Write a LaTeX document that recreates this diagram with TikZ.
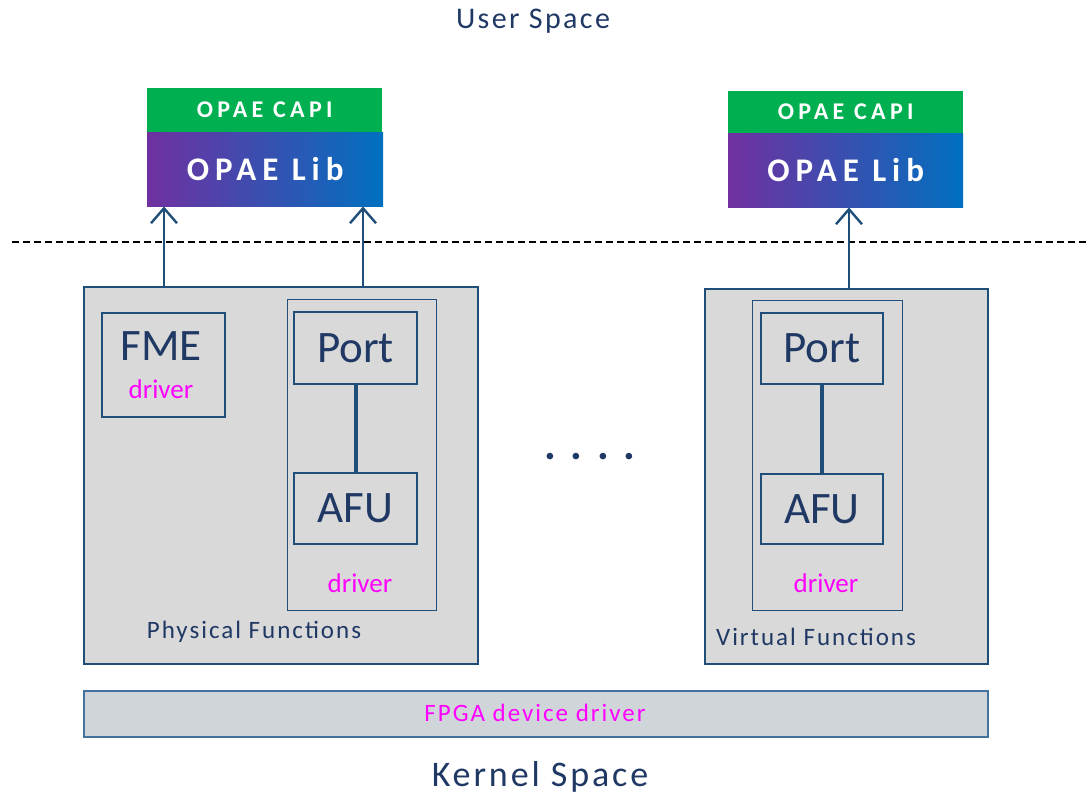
\documentclass[tikz,border=0pt]{standalone}
\usepackage{fontspec}
\setmainfont{Carlito}
\newfontfamily\spaced[LetterSpace=8]{Carlito}
\newfontfamily\widespaced[LetterSpace=18]{Carlito}
\usetikzlibrary{positioning, arrows.meta}
\definecolor{navy}{HTML}{1F3864}
\definecolor{boxline}{HTML}{1F4E79}
\definecolor{boxgray}{HTML}{D9D9D9}
\definecolor{bargray}{HTML}{D0D5DA}
\definecolor{barline}{HTML}{41719C}
\definecolor{capigreen}{HTML}{00B050}
\definecolor{libpurple}{HTML}{7030A0}
\definecolor{libblue}{HTML}{0070C0}
\definecolor{drvpink}{HTML}{FF00FF}
\tikzset{%
  every func/.style={
    draw=boxline,
    fill=boxgray,
    line width=2pt,
    anchor=north west,
    inner sep=0pt
  },
  every part/.style={
    draw=boxline,
    line width=2pt,
    anchor=north west,
    inner sep=0pt,
    text=navy,
    font=\fontsize{45}{45}\selectfont
  },
  every capi/.style={
    fill=capigreen,
    anchor=north west,
    inner sep=0pt,
    text=white,
    font=\widespaced\fontsize{24}{24}\bfseries\selectfont
  },
  every lib/.style={
    left color=libpurple,
    right color=libblue,
    anchor=north west,
    inner sep=0pt,
    text=white,
    font=\widespaced\fontsize{33}{33}\bfseries\selectfont
  },
  drv/.style={text=drvpink, font=\fontsize{27}{27}\selectfont},
  caption/.style={text=navy, font=\spaced\fontsize{25}{25}\selectfont}
}

\begin{document}
\begin{tikzpicture}[x=1pt, y=-1pt, >={Straight Barb[length=15pt, width=26pt, line width=2.4pt]}]
		\useasboundingbox (0,0) rectangle (1089,796);
		%% user space
		\node[caption, font=\spaced\fontsize{30}{30}\selectfont] (us) at (533,21) {User Space};
		\node[every capi, minimum width=235pt, minimum height=44pt] (capi1) at (147,88) {OPAE CAPI};
		\node[every lib, minimum width=236pt, minimum height=74pt] (lib1) at (147,132) {OPAE Lib};
		\node[every capi, minimum width=235pt, minimum height=42pt] (capi2) at (728,91) {OPAE CAPI};
		\node[every lib, minimum width=235pt, minimum height=74pt] (lib2) at (728,133) {OPAE Lib};
		%% boundary
		\coordinate (bl) at (12,242);
		\coordinate (br) at (1089,242);
		\draw[line width=1.8pt, dash pattern=on 7pt off 4pt] (bl) -- (br);
		%% physical functions
		\node[every func, minimum width=394pt, minimum height=377pt] (pf) at (83,286) {};
		\node[every part, fill=boxgray, minimum width=123pt, minimum height=104pt] (fme) at (101,312) {};
		\node[text=navy, font=\fontsize{45}{45}\selectfont] (fmet) at (161,346) {FME};
		\node[drv] (fmed) at (161,389) {driver};
		\node[draw=boxline, line width=1.2pt, anchor=north west, minimum width=149pt, minimum height=311pt] (pdrv) at (287,299) {};
		\node[every part, minimum width=123pt, minimum height=72pt] (port1) at (293,311) {Port};
		\node[every part, minimum width=123pt, minimum height=71pt] (afu1) at (293,472) {AFU};
		\node[drv] (pd) at (360,583) {driver};
		\node[caption] (pft) at (254,632) {Physical Functions};
		%% virtual functions
		\node[every func, minimum width=283pt, minimum height=375pt] (vf) at (704,288) {};
		\node[draw=boxline, line width=1.2pt, anchor=north west, minimum width=150pt, minimum height=310pt] (vdrv) at (752,300) {};
		\node[every part, minimum width=122pt, minimum height=71pt] (port2) at (760,312) {Port};
		\node[every part, minimum width=122pt, minimum height=70pt] (afu2) at (760,473) {AFU};
		\node[drv] (vd) at (826,583) {driver};
		\node[caption] (vft) at (816,637) {Virtual Functions};
		%% dots
		\node[text=navy, font=\fontsize{44}{44}\bfseries\selectfont] (dots) at (590,457) {.\,\,.\,\,.\,\,.};
		%% kernel space
		\node[draw=barline, fill=bargray, line width=1.6pt, anchor=north west, minimum width=904pt, minimum height=46pt, inner sep=0pt] (fpga) at (83,690) {};
		\node[drv, font=\spaced\fontsize{25}{25}\selectfont] (fpgat) at (535,713) {FPGA device driver};
		\node[caption, font=\spaced\fontsize{36}{36}\selectfont] (ks) at (540,777) {Kernel Space};
		%% connections
		\coordinate (a1) at (164,0);
		\coordinate (a2) at (363,0);
		\coordinate (a3) at (849,0);
		\draw[->, draw=boxline, line width=2.4pt] (a1 |- pf.north) -- (a1 |- lib1.south);
		\draw[->, draw=boxline, line width=2.4pt] (a2 |- pf.north) -- (a2 |- lib1.south);
		\draw[->, draw=boxline, line width=2.4pt] (a3 |- vf.north) -- (a3 |- lib2.south);
		\draw[draw=boxline, line width=4pt] (port1) -- (afu1);
		\draw[draw=boxline, line width=4pt] (port2) -- (afu2);
	\end{tikzpicture}
\end{document}
